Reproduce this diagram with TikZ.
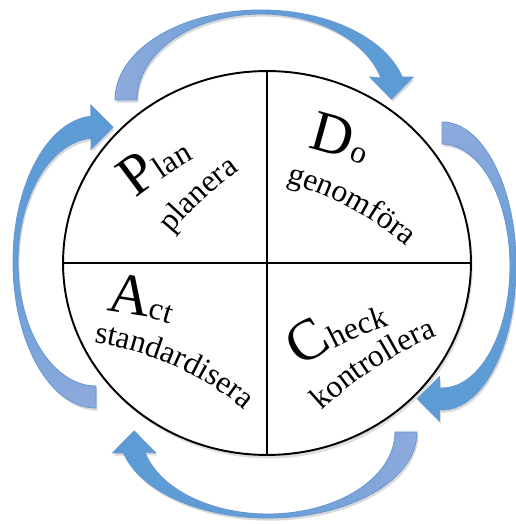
\documentclass[tikz,border=0pt]{standalone}
\usepackage{fontspec}
\setmainfont{Liberation Serif}
\usetikzlibrary{shapes.geometric,calc,shadows,decorations.text}
\definecolor{tailcol}{RGB}{143,170,220}
\definecolor{headcol}{RGB}{91,155,213}
\definecolor{edgecol}{RGB}{104,152,212}
\newcommand{\capsz}{\fontsize{33}{35}\selectfont}
\newcommand{\wordsz}{\fontsize{18}{21}\selectfont}
% curved block arrow: #1 placement, #2 x radius, #3 y radius, #4 end angle, #5 thickness at the top, #6 shading
\newcommand{\cycarrow}[6]{%
  \pgfmathsetmacro{\inrx}{#2-22}%
  \pgfmathsetmacro{\inry}{#3-#5}%
  \begin{scope}[#1]
    \path[cycle arrow, #6] (-#2,0)
      arc[start angle=180, end angle=#4, x radius=#2, y radius=#3]
      -- ({#2*cos(#4)+11}, {#3*sin(#4)})
      -- ({(2*#2-22)*cos(#4)/2}, {#3*sin(#4)-22})
      -- ({\inrx*cos(#4)-11}, {#3*sin(#4)})
      -- ({\inrx*cos(#4)}, {\inry*sin(#4)})
      arc[start angle=#4, end angle=180, x radius=\inrx, y radius=\inry]
      -- cycle;
  \end{scope}}

\begin{document}
\begin{tikzpicture}[
    x=0.02cm, y=0.02cm,
    pie/.style={ellipse, draw, fill=white, line width=1.1pt, inner sep=0pt, minimum width=8.16cm, minimum height=7.68cm, drop shadow={opacity=0.25, shadow xshift=1pt, shadow yshift=-2pt}},
    quad/.style={line width=1.1pt},
    cycle arrow/.style={draw=edgecol, line width=0.5pt, drop shadow={opacity=0.3, shadow xshift=0.8pt, shadow yshift=-1.5pt}},
    label arc/.style={decorate, decoration={text along path, text align=center, text={#1}}},
]
\useasboundingbox[fill=white] (0,0) rectangle (515,524);

\node[pie] (pie) at (267,261) {};
\draw[quad] (pie.north) -- (pie.south);
\draw[quad] (pie.west) -- (pie.east);

% arrows round the circle
\cycarrow{shift={(261,424)}}{146}{90}{14.8}{4}{left color=tailcol, right color=headcol, middle color=headcol!85!tailcol}
\cycarrow{shift={(442,258)}, rotate=-90}{144}{74}{-2}{6}{top color=tailcol, bottom color=headcol, middle color=headcol!85!tailcol}
\cycarrow{shift={(268,92)}, rotate=180}{149}{86}{14.1}{4}{right color=tailcol, left color=headcol, middle color=headcol!85!tailcol}
\cycarrow{shift={(96,262)}, rotate=90}{146}{83}{3.5}{5}{bottom color=tailcol, top color=headcol, middle color=headcol!85!tailcol}

% quadrant texts
\path[label arc={|\capsz|P|\wordsz|lan}] ($(388,15)+(144:400)$) arc[start angle=144, end angle=104, radius=400];
\path[label arc={|\wordsz|planera}] ($(442,68)+(153:350)$) arc[start angle=153, end angle=113, radius=350];
\path[label arc={|\capsz|D|\wordsz|o}] ($(248,82)+(93:300)$) arc[start angle=93, end angle=53, radius=300];
\path[label arc={|\wordsz|genomföra}] ($(199.8,33.5)+(87:320)$) arc[start angle=87, end angle=37, radius=320];
\path[label arc={|\capsz|A|\wordsz|ct}] ($(81,-86.5)+(99:300)$) arc[start angle=99, end angle=59, radius=300];
\path[label arc={|\wordsz|standardisera}] ($(52,-116)+(92:300)$) arc[start angle=92, end angle=40, radius=300];
\path[label arc={|\capsz|C|\wordsz|heck}] ($(475,-89)+(136:300)$) arc[start angle=136, end angle=96, radius=300];
\path[label arc={|\wordsz|kontrollera}] ($(593.9,-179.5)+(143:400)$) arc[start angle=143, end angle=103, radius=400];
\end{tikzpicture}
\end{document}
